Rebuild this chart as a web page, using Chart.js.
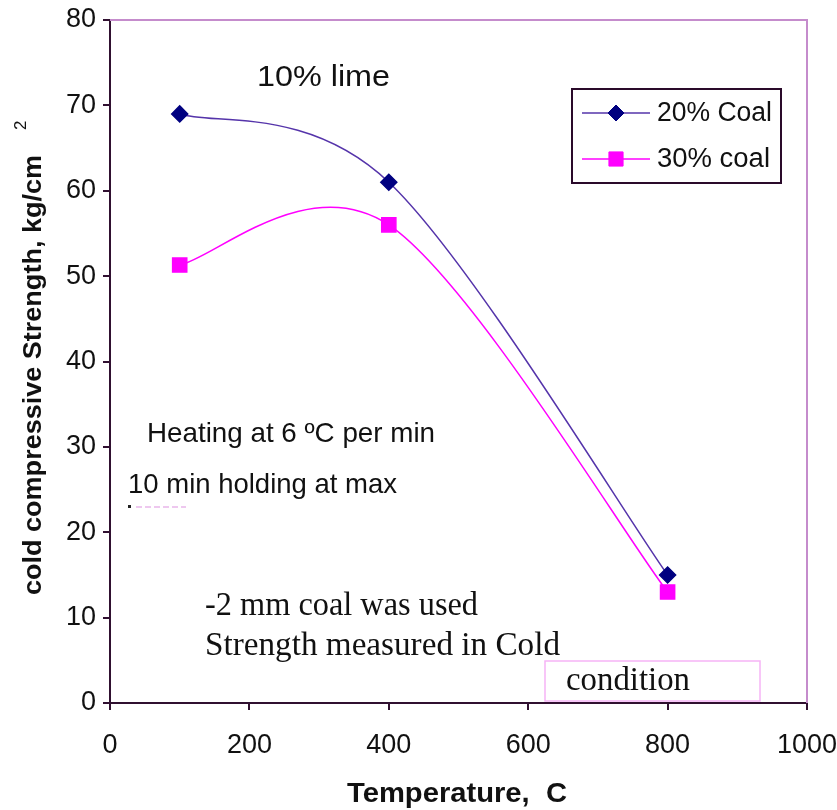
<!DOCTYPE html>
<html>
<head>
<meta charset="utf-8">
<script src="https://cdn.jsdelivr.net/npm/chart.js@4.4.0/dist/chart.umd.min.js"></script>
<style>
  body { margin: 0; background: #fff; }
  #wrap { width: 837px; height: 810px; }
</style>
</head>
<body>
<div id="wrap"><canvas id="currentChart" width="837" height="810"></canvas></div>
<script>
// data
const temps = [100, 400, 800];
const coal20 = [69, 61, 15];
const coal30 = [51.3, 56, 13];
const seriesNames = ['20% Coal', '30% coal'];
const xTicks = [0, 200, 400, 600, 800, 1000];
const yTicks = [0, 10, 20, 30, 40, 50, 60, 70, 80];

const AXIS = '#301030';
const FRAME = '#c58ccc';

function toPoints(xs, ys) {
    return xs.map((x, i) => ({ x: x, y: ys[i] }));
}

// text stretched to the width it has in the picture
function fitText(ctx, str, x, y, w, font) {
    ctx.save();
    ctx.font = font;
    const m = ctx.measureText(str).width;
    ctx.translate(x, y);
    ctx.scale(w / m, 1);
    ctx.fillText(str, 0, 0);
    ctx.restore();
}

// Excel style smoothing: control points = p +- (next - prev) / 6
const excelSmooth = {
    id: 'excelSmooth',
    beforeDatasetsDraw(chart) {
        chart.data.datasets.forEach((ds, di) => {
            const meta = chart.getDatasetMeta(di);
            if (!meta.dataset) return;
            meta.dataset.updateControlPoints(chart.chartArea, 'x');
            const pts = meta.data;
            const n = pts.length;
            pts.forEach((p, i) => {
                const prev = pts[Math.max(i - 1, 0)];
                const next = pts[Math.min(i + 1, n - 1)];
                const dx = (next.x - prev.x) / 6;
                const dy = (next.y - prev.y) / 6;
                p.cp1x = p.x - dx; p.cp1y = p.y - dy;
                p.cp2x = p.x + dx; p.cp2y = p.y + dy;
            });
        });
    }
};

const extras = {
    id: 'extras',
    afterDraw(chart) {
        const ctx = chart.ctx;
        const a = chart.chartArea;
        ctx.save();

        // top + right frame
        ctx.strokeStyle = FRAME;
        ctx.lineWidth = 2;
        ctx.beginPath();
        ctx.moveTo(a.left, a.top);
        ctx.lineTo(a.right, a.top);
        ctx.lineTo(a.right, a.bottom);
        ctx.stroke();

        ctx.fillStyle = '#111';
        ctx.textAlign = 'left';
        ctx.textBaseline = 'alphabetic';
        const sans = '"Liberation Sans", Arial, sans-serif';
        const serif = '"Liberation Serif", "Times New Roman", serif';

        fitText(ctx, '10% lime', 257, 86, 133, '30px ' + sans);
        fitText(ctx, 'Heating at 6 ºC per min', 147, 442, 288, '28px ' + sans);
        fitText(ctx, '10 min holding at max', 128, 493, 269, '28px ' + sans);
        fitText(ctx, '-2 mm coal was used', 205, 615, 273, '33px ' + serif);
        fitText(ctx, 'Strength measured in Cold', 205, 655, 355, '33px ' + serif);

        // small dashed leftover under the note
        ctx.save();
        ctx.strokeStyle = '#e9b6ea';
        ctx.lineWidth = 1.5;
        ctx.setLineDash([6, 3]);
        ctx.beginPath();
        ctx.moveTo(136, 507);
        ctx.lineTo(186, 507);
        ctx.stroke();
        ctx.restore();
        ctx.fillStyle = '#222';
        ctx.fillRect(128, 505, 3, 3);

        // "condition" box
        ctx.strokeStyle = '#f6b4f6';
        ctx.lineWidth = 1.5;
        ctx.fillStyle = '#fff';
        ctx.fillRect(545, 661, 215, 40);
        ctx.strokeRect(545, 661, 215, 40);
        ctx.fillStyle = '#111';
        fitText(ctx, 'condition', 566, 690, 124, '33px ' + serif);

        // legend
        ctx.strokeStyle = '#2a0a2a';
        ctx.lineWidth = 2;
        ctx.fillStyle = '#fff';
        ctx.fillRect(572, 89, 209, 94);
        ctx.strokeRect(572, 89, 209, 94);
        const rows = [113, 159];
        chart.data.datasets.forEach((ds, i) => {
            const y = rows[i];
            ctx.strokeStyle = ds.borderColor;
            ctx.lineWidth = ds.borderWidth;
            ctx.beginPath();
            ctx.moveTo(582, y);
            ctx.lineTo(650, y);
            ctx.stroke();
            ctx.fillStyle = ds.pointBackgroundColor;
            ctx.strokeStyle = ds.pointBorderColor;
            ctx.lineWidth = 1;
            Chart.helpers.drawPoint(ctx, {
                pointStyle: ds.pointStyle,
                radius: ds.pointRadius,
                rotation: 0,
                borderWidth: 1
            }, 616, y);
            ctx.fillStyle = '#111';
            fitText(ctx, ds.label, 657, y + 8, i === 0 ? 115 : 113, '27px ' + sans);
        });

        // axis titles
        ctx.fillStyle = '#111';
        ctx.textAlign = 'left';
        fitText(ctx, 'Temperature,  C', 347, 802, 220, 'bold 28px ' + sans);

        ctx.save();
        ctx.translate(41, 595);
        ctx.rotate(-Math.PI / 2);
        fitText(ctx, 'cold compressive Strength, kg/cm', 0, 0, 440, 'bold 25px ' + sans);
        ctx.restore();
        ctx.save();
        ctx.translate(26, 595);
        ctx.rotate(-Math.PI / 2);
        ctx.font = '17px ' + sans;
        ctx.fillText('2', 465, 0);
        ctx.restore();

        ctx.restore();
    }
};

const tickFont = { family: '"Liberation Sans", Arial, sans-serif', size: 27 };

const ctx = document.getElementById('currentChart');
const myChart = new Chart(ctx, {
    type: 'line',
    data: {
        datasets: [{
            label: seriesNames[0],
            data: toPoints(temps, coal20),
            borderColor: '#5534aa',
            borderWidth: 1.5,
            pointStyle: 'rectRot',
            pointRadius: 8,
            pointBackgroundColor: '#000080',
            pointBorderColor: '#000080',
            tension: 0.3
        }, {
            label: seriesNames[1],
            data: toPoints(temps, coal30),
            borderColor: '#ff00ff',
            borderWidth: 1.5,
            pointStyle: 'rect',
            pointRadius: 10,
            pointBackgroundColor: '#ff00ff',
            pointBorderColor: '#ff00ff',
            tension: 0.3
        }]
    },
    options: {
        responsive: false,
        animation: false,
        layout: { padding: { top: 20, right: 30, left: 0, bottom: 0 } },
        plugins: {
            legend: { display: false },
            tooltip: { enabled: false }
        },
        scales: {
            x: {
                type: 'linear',
                min: 0,
                max: 1000,
                afterBuildTicks: (s) => { s.ticks = xTicks.map(v => ({ value: v })); },
                afterFit: (s) => { s.height = 107; s.paddingLeft = 0; s.paddingRight = 0; },
                grid: { drawOnChartArea: false, drawTicks: true, tickLength: 7, color: AXIS, lineWidth: 2 },
                border: { display: true, color: AXIS, width: 2 },
                ticks: {
                    color: '#111',
                    padding: 19,
                    maxRotation: 0,
                    callback: (v) => String(v),
                    font: tickFont
                }
            },
            y: {
                min: 0,
                max: 80,
                afterBuildTicks: (s) => { s.ticks = yTicks.map(v => ({ value: v })); },
                afterFit: (s) => { s.width = 110; s.paddingTop = 0; s.paddingBottom = 0; },
                grid: { drawOnChartArea: false, drawTicks: true, tickLength: 7, color: AXIS, lineWidth: 2 },
                border: { display: true, color: AXIS, width: 2 },
                ticks: {
                    color: '#111',
                    padding: 7,
                    callback: (v) => String(v),
                    font: tickFont
                }
            }
        }
    },
    plugins: [excelSmooth, extras]
});
</script>
</body>
</html>
